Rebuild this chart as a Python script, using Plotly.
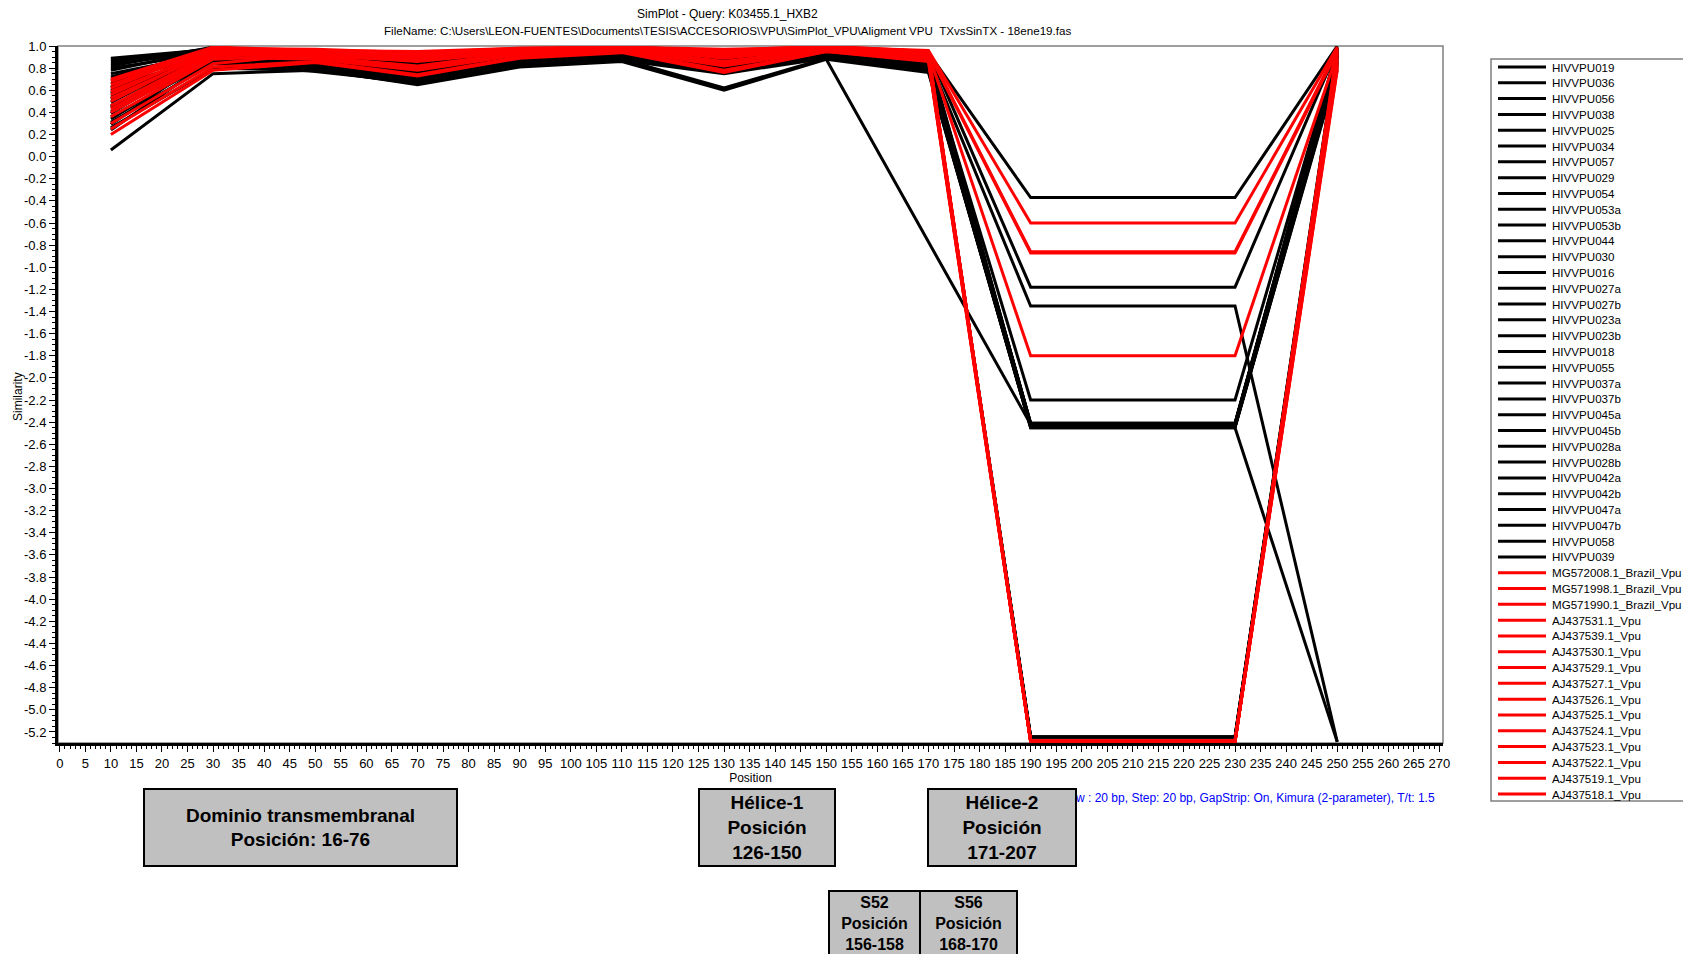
import plotly.graph_objects as go

# ---------------- data ----------------
POSITIONS = [10, 30, 50, 70, 90, 110, 130, 150, 170, 190, 210, 230, 250]

BLACK_NAMES = ["HIVVPU019", "HIVVPU036", "HIVVPU056", "HIVVPU038", "HIVVPU025", "HIVVPU034",
               "HIVVPU057", "HIVVPU029", "HIVVPU054", "HIVVPU053a", "HIVVPU053b", "HIVVPU044",
               "HIVVPU030", "HIVVPU016", "HIVVPU027a", "HIVVPU027b", "HIVVPU023a", "HIVVPU023b",
               "HIVVPU018", "HIVVPU055", "HIVVPU037a", "HIVVPU037b", "HIVVPU045a", "HIVVPU045b",
               "HIVVPU028a", "HIVVPU028b", "HIVVPU042a", "HIVVPU042b", "HIVVPU047a", "HIVVPU047b",
               "HIVVPU058", "HIVVPU039"]

RED_NAMES = ["MG572008.1_Brazil_Vpu", "MG571998.1_Brazil_Vpu", "MG571990.1_Brazil_Vpu",
             "AJ437531.1_Vpu", "AJ437539.1_Vpu", "AJ437530.1_Vpu", "AJ437529.1_Vpu",
             "AJ437527.1_Vpu", "AJ437526.1_Vpu", "AJ437525.1_Vpu", "AJ437524.1_Vpu",
             "AJ437523.1_Vpu", "AJ437522.1_Vpu", "AJ437519.1_Vpu", "AJ437518.1_Vpu"]

BLACK_SERIES = [
    [0.89, 0.97, 0.92, 0.88, 0.95, 0.97, 0.93, 0.97, 0.93, -2.42, -2.42, -2.42, 0.98],
    [0.88, 0.96, 0.90, 0.85, 0.93, 0.96, 0.90, 0.96, 0.90, -2.42, -2.42, -2.42, 0.95],
    [0.86, 0.98, 0.94, 0.90, 0.96, 0.98, 0.95, 0.98, 0.94, -0.37, -0.37, -0.37, 1.00],
    [0.84, 0.95, 0.88, 0.80, 0.92, 0.95, 0.86, 0.95, 0.88, -2.43, -2.43, -2.43, 0.92],
    [0.82, 0.99, 0.93, 0.92, 0.97, 0.99, 0.96, 0.99, 0.95, -1.18, -1.18, -1.18, 0.97],
    [0.80, 0.94, 0.86, 0.76, 0.90, 0.94, 0.82, 0.94, 0.86, -2.44, -2.44, -2.44, 0.90],
    [0.78, 0.97, 0.90, 0.86, 0.94, 0.97, 0.91, 0.97, 0.91, -5.245, -5.245, -5.245, 0.93],
    [0.75, 0.93, 0.84, 0.72, 0.88, 0.93, 0.80, 0.93, 0.84, -2.41, -2.41, -2.41, 0.88],
    [0.72, 0.96, 0.89, 0.83, 0.93, 0.96, 0.88, 0.96, 0.89, -1.35, -1.35, -1.35, -5.29],
    [0.69, 0.92, 0.82, 0.70, 0.86, 0.91, 0.78, 0.92, 0.82, -2.43, -2.43, -2.43, 0.86],
    [0.66, 0.95, 0.87, 0.81, 0.92, 0.95, 0.87, 0.95, 0.87, -2.20, -2.20, -2.20, 0.96],
    [0.63, 0.90, 0.80, 0.68, 0.85, 0.90, 0.76, 0.91, 0.80, -2.42, -2.42, -2.42, 0.84],
    [0.60, 0.94, 0.91, 0.84, 0.94, 0.97, 0.92, 0.97, 0.90, -5.245, -5.245, -5.245, 0.99],
    [0.57, 0.88, 0.78, 0.66, 0.83, 0.88, 0.62, 0.89, 0.78, -2.45, -2.45, -2.45, -5.29],
    [0.55, 0.93, 0.86, 0.79, 0.91, 0.94, 0.85, 0.94, 0.85, -2.42, -2.42, -2.42, 0.91],
    [0.52, 0.91, 0.83, 0.74, 0.89, 0.92, 0.81, 0.93, 0.83, -2.43, -2.43, -2.43, 0.89],
    [0.49, 0.97, 0.95, 0.89, 0.96, 0.98, 0.94, 0.98, 0.92, -5.245, -5.245, -5.245, 0.97],
    [0.46, 0.86, 0.79, 0.65, 0.81, 0.86, 0.60, 0.88, 0.76, -2.44, -2.44, -2.44, 0.83],
    [0.44, 0.92, 0.85, 0.77, 0.90, 0.93, 0.84, 0.95, 0.86, -2.42, -2.42, -2.42, 0.94],
    [0.41, 0.89, 0.81, 0.71, 0.87, 0.91, 0.79, 0.92, 0.81, -2.43, -2.43, -2.43, 0.87],
    [0.39, 0.95, 0.88, 0.82, 0.93, 0.96, 0.89, 0.96, 0.88, -2.41, -2.41, -2.41, 0.96],
    [0.36, 0.87, 0.80, 0.69, 0.84, 0.89, 0.77, 0.90, 0.79, -2.44, -2.44, -2.44, 0.85],
    [0.34, 0.90, 0.82, 0.73, 0.88, 0.92, 0.83, 0.93, 0.84, -2.42, -2.42, -2.42, 0.90],
    [0.31, 0.84, 0.77, 0.67, 0.82, 0.87, 0.75, 0.89, 0.77, -2.45, -2.45, -2.45, 0.80],
    [0.29, 0.93, 0.86, 0.78, 0.91, 0.94, 0.86, 0.95, 0.87, -2.43, -2.43, -2.43, 0.93],
    [0.26, 0.80, 0.78, 0.70, 0.85, 0.90, 0.80, 0.91, 0.80, -2.44, -2.44, -2.44, 0.82],
    [0.24, 0.88, 0.84, 0.75, 0.89, 0.93, 0.82, 0.94, 0.85, -2.42, -2.42, -2.42, 0.88],
    [0.45, 0.96, 0.91, 0.85, 0.94, 0.97, 0.90, 0.88, None, -2.42, -2.42, -2.42, 0.92],
    [0.62, 0.91, 0.87, 0.80, 0.90, 0.94, 0.86, 0.94, 0.84, -2.43, -2.43, -2.43, 0.86],
    [0.53, 0.94, 0.89, 0.84, 0.92, 0.95, 0.88, 0.96, 0.88, -5.245, -5.245, -5.245, 0.95],
    [0.58, 0.93, 0.87, 0.80, 0.91, 0.95, 0.87, 0.96, 0.87, -2.42, -2.42, -2.42, 0.91],
    [0.06, 0.75, 0.78, 0.72, 0.82, 0.90, 0.79, 0.90, 0.78, -2.44, -2.44, -2.44, 0.78],
]

RED_SERIES = [
    [0.70, 0.99, 0.96, 0.95, 0.98, 0.99, 0.97, 0.99, 0.96, -0.60, -0.60, -0.60, 0.99],
    [0.68, 0.98, 0.94, 0.92, 0.97, 0.99, 0.95, 0.99, 0.95, -0.86, -0.86, -0.86, 0.97],
    [0.65, 0.97, 0.95, 0.90, 0.96, 0.98, 0.93, 0.98, 0.94, -0.87, -0.87, -0.87, 0.95],
    [0.62, 0.99, 0.93, 0.88, 0.97, 0.99, 0.91, 0.99, 0.93, -1.80, -1.80, -1.80, 0.93],
    [0.59, 0.96, 0.92, 0.86, 0.95, 0.98, 0.89, 0.98, 0.92, -5.285, -5.285, -5.285, 0.90],
    [0.56, 0.98, 0.97, 0.94, 0.98, 0.99, 0.96, 1.00, 0.95, -5.285, -5.285, -5.285, 0.98],
    [0.53, 0.95, 0.90, 0.82, 0.94, 0.97, 0.86, 0.97, 0.91, -5.285, -5.285, -5.285, 0.86],
    [0.50, 0.97, 0.94, 0.91, 0.96, 0.98, 0.92, 0.99, 0.94, -5.285, -5.285, -5.285, 0.96],
    [0.46, 0.94, 0.89, 0.80, 0.93, 0.96, 0.84, 0.97, 0.90, -5.285, -5.285, -5.285, 0.84],
    [0.43, 0.92, 0.91, 0.87, 0.95, 0.98, 0.90, 0.98, 0.92, -5.285, -5.285, -5.285, 0.92],
    [0.40, 0.90, 0.88, 0.78, 0.92, 0.96, 0.82, 0.96, 0.89, -5.285, -5.285, -5.285, 0.82],
    [0.36, 0.88, 0.92, 0.89, 0.96, 0.98, 0.94, 0.99, 0.93, -5.285, -5.285, -5.285, 0.94],
    [0.30, 0.84, 0.93, 0.90, 0.95, 0.97, 0.91, 0.98, 0.93, -5.285, -5.285, -5.285, 0.88],
    [0.25, 0.81, 0.86, 0.74, 0.90, 0.95, 0.78, 0.95, 0.87, -5.285, -5.285, -5.285, 0.80],
    [0.20, 0.78, 0.85, 0.73, 0.89, 0.94, 0.76, 0.95, 0.86, -5.285, -5.285, -5.285, 0.78],
]

Y_TICKS = [round(1.0 - 0.2 * i, 1) for i in range(32)]
Y_TICK_LABELS = ["%.1f" % v for v in Y_TICKS]

TITLE_1 = "SimPlot - Query: K03455.1_HXB2"
TITLE_2 = r"FileName: C:\Users\LEON-FUENTES\Documents\TESIS\ACCESORIOS\VPU\SimPlot_VPU\Aligment VPU  TXvsSinTX - 18ene19.fas"
PARAMS_TEXT = "Window : 20 bp, Step: 20 bp, GapStrip: On, Kimura (2-parameter), T/t: 1.5"
Y_TITLE = "Similarity"
X_TITLE = "Position"

BOXES = [
    ("Dominio transmembranal<br>Posición: 16-76", 144, 789, 457, 866, 19),
    ("Hélice-1<br>Posición<br>126-150", 699, 789, 835, 866, 19),
    ("Hélice-2<br>Posición<br>171-207", 928, 789, 1076, 866, 19),
    ("S52<br>Posición<br>156-158", 829, 891, 920, 956, 16),
    ("S56<br>Posición<br>168-170", 920, 891, 1017, 956, 16),
]

# ---------------- layout geometry (page pixels) ----------------
OFF = 8                      # default body margin of the html page
W, H = 1691 - OFF, 954 - OFF
L, R, T, B = 58, 1443, 46, 743   # plot area in page pixels

ARIAL = "Liberation Sans, Arial, sans-serif"


def px_x(px):
    return (px - L) / (R - L)


def px_y(py):
    return (B - py) / (B - T)


fig = go.Figure()

for name, vals in zip(BLACK_NAMES, BLACK_SERIES):
    fig.add_trace(go.Scatter(x=POSITIONS, y=vals, mode="lines", name=name,
                             line=dict(color="#000000", width=3), connectgaps=True))
for name, vals in zip(RED_NAMES, RED_SERIES):
    fig.add_trace(go.Scatter(x=POSITIONS, y=vals, mode="lines", name=name,
                             line=dict(color="#ff0000", width=3), connectgaps=True))

fig.update_layout(
    width=W, height=H,
    margin=dict(l=L - OFF, r=W - (R - OFF), t=T - OFF, b=H - (B - OFF), autoexpand=False),
    paper_bgcolor="white", plot_bgcolor="white",
    showlegend=False,
    font=dict(family=ARIAL, color="black", size=12),
)

fig.update_xaxes(
    range=[-0.35, 270.7], dtick=5, tick0=0, showgrid=False, zeroline=False,
    showline=True, linecolor="black", linewidth=3,
    ticks="outside", ticklen=6, tickwidth=1.2, tickcolor="black",
    minor=dict(dtick=1, tick0=0, ticklen=3, tickwidth=1, tickcolor="black", ticks="outside"),
    tickfont=dict(family=ARIAL, size=13),
    title=dict(text=X_TITLE, font=dict(family=ARIAL, size=12), standoff=2),
)
fig.update_yaxes(
    range=[-5.3, 1.0], tickmode="array", tickvals=Y_TICKS, ticktext=Y_TICK_LABELS,
    showgrid=False, zeroline=False,
    showline=True, linecolor="black", linewidth=3,
    ticks="outside", ticklen=6, tickwidth=1.2, tickcolor="black",
    minor=dict(dtick=0.05, tick0=0, ticklen=3, tickwidth=1, tickcolor="black", ticks="outside"),
    tickfont=dict(family=ARIAL, size=13),
)

# y-axis title placed precisely
fig.add_annotation(x=px_x(18), y=px_y(397), xref="paper", yref="paper", text=Y_TITLE,
                   textangle=-90, xanchor="center", yanchor="middle", showarrow=False,
                   font=dict(family=ARIAL, size=12))

# thin plot frame
fig.add_shape(type="rect", xref="paper", yref="paper", x0=0, x1=1, y0=0, y1=1,
              line=dict(color="#808080", width=1.5), layer="below")

# titles
fig.add_annotation(x=px_x(727), y=px_y(14), xref="paper", yref="paper", text=TITLE_1,
                   xanchor="center", yanchor="middle", showarrow=False,
                   font=dict(family=ARIAL, size=12))
fig.add_annotation(x=px_x(727), y=px_y(30), xref="paper", yref="paper", text=TITLE_2,
                   xanchor="center", yanchor="middle", showarrow=False,
                   font=dict(family=ARIAL, size=11.6))

# parameter text (partly covered by the Hélice-2 box)
fig.add_annotation(x=px_x(1437), y=px_y(798), xref="paper", yref="paper", text=PARAMS_TEXT,
                   xanchor="right", yanchor="middle", showarrow=False,
                   font=dict(family=ARIAL, size=12, color="#0000ff"))

# region boxes
for text, x0, y0, x1, y1, size in BOXES:
    fig.add_annotation(x=px_x((x0 + x1) / 2), y=px_y((y0 + y1) / 2), xref="paper", yref="paper",
                       xanchor="center", yanchor="middle",
                       text="<b>" + text + "</b>", showarrow=False,
                       width=x1 - x0 - 2, height=y1 - y0 - 2, borderpad=0,
                       bgcolor="#c0c0c0", bordercolor="black", borderwidth=2,
                       align="center", valign="middle",
                       font=dict(family=ARIAL, size=size, color="black"))

# legend (drawn manually to match the compact row spacing)
fig.add_shape(type="rect", xref="paper", yref="paper", x0=px_x(1491), x1=px_x(1690),
              y0=px_y(801), y1=px_y(59), line=dict(color="#808080", width=1.5))
names = BLACK_NAMES + RED_NAMES
colors = ["#000000"] * len(BLACK_NAMES) + ["#ff0000"] * len(RED_NAMES)
y_first, y_last = 67, 794
step = (y_last - y_first) / (len(names) - 1)
for i, (nm, col) in enumerate(zip(names, colors)):
    yy = px_y(y_first + i * step)
    fig.add_shape(type="line", xref="paper", yref="paper", x0=px_x(1498), x1=px_x(1546),
                  y0=yy, y1=yy, line=dict(color=col, width=3))
    fig.add_annotation(x=px_x(1550), y=yy, xref="paper", yref="paper", text=nm,
                       xanchor="left", yanchor="middle", showarrow=False,
                       font=dict(family=ARIAL, size=11.6, color="black"))

fig.write_html("out.html")
